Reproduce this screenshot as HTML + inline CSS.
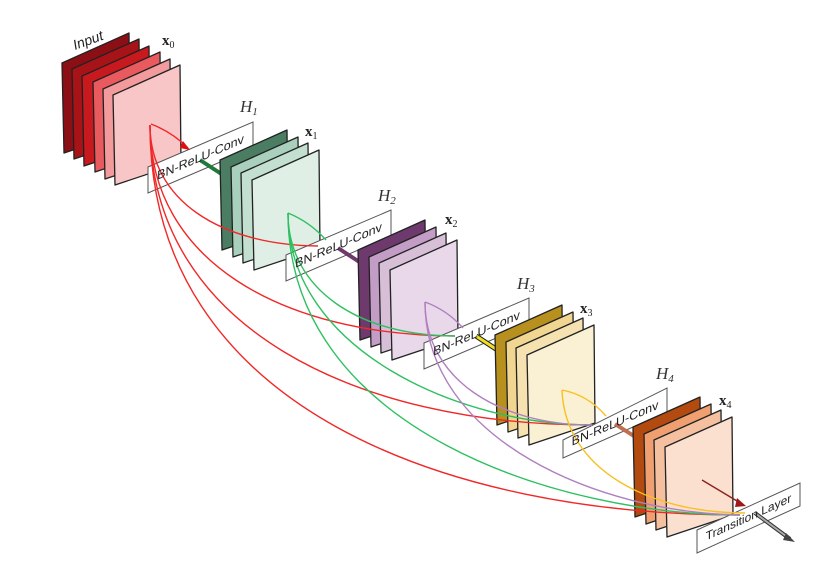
<!DOCTYPE html>
<html><head><meta charset="utf-8"><style>
html,body{margin:0;padding:0;background:#fff;}
svg{display:block;}
</style></head><body>
<svg width="823" height="574" viewBox="0 0 823 574" xmlns="http://www.w3.org/2000/svg" font-family="Liberation Sans, sans-serif">
<rect width="823" height="574" fill="#fff"/>
<g stroke="#222" stroke-width="1.3" stroke-linejoin="round">
<polygon points="62,63 129,33 130,131 64,153" fill="#8b0f14"/>
<polygon points="72,69 139,39 140,137 74,159" fill="#a81318"/>
<polygon points="82,76 149,46 150,144 84,166" fill="#c8191e"/>
<polygon points="93,82 160,52 161,150 95,172" fill="#e85a5e"/>
<polygon points="103,89 170,59 171,157 105,179" fill="#f29a9c"/>
<polygon points="113,95 180,65 181,163 115,185" fill="#f9c6c7"/>
</g>
<polygon points="148,167 253,122 253,148 148,193" fill="#fff" stroke="#555" stroke-width="1"/>
<line x1="200" y1="160" x2="223" y2="175" stroke="#1f7a3a" stroke-width="4"/>
<g stroke="#222" stroke-width="1.3" stroke-linejoin="round">
<polygon points="220,160 287,130 288,228 222,250" fill="#4a7d62"/>
<polygon points="231,167 298,137 299,235 233,257" fill="#a8d0bc"/>
<polygon points="241,173 308,143 309,241 243,263" fill="#c3dfd0"/>
<polygon points="252,180 319,150 320,248 254,270" fill="#e0efe6"/>
</g>
<polygon points="286,255 391,210 391,236 286,281" fill="#fff" stroke="#555" stroke-width="1"/>
<line x1="338" y1="248" x2="361" y2="263" stroke="#6e3a6e" stroke-width="4"/>
<g stroke="#222" stroke-width="1.3" stroke-linejoin="round">
<polygon points="358,250 425,220 426,318 360,340" fill="#6e3a6e"/>
<polygon points="369,257 436,227 437,325 371,347" fill="#c39dc6"/>
<polygon points="379,263 446,233 447,331 381,353" fill="#d8bfd8"/>
<polygon points="390,270 457,240 458,338 392,360" fill="#e8d8ea"/>
</g>
<polygon points="424,343 529,298 529,324 424,369" fill="#fff" stroke="#555" stroke-width="1"/>
<line x1="476" y1="336" x2="499" y2="351" stroke="#222" stroke-width="5"/>
<line x1="476" y1="336" x2="499" y2="351" stroke="#f0e020" stroke-width="3"/>
<g stroke="#222" stroke-width="1.3" stroke-linejoin="round">
<polygon points="495,335 562,305 563,403 497,425" fill="#b8901e"/>
<polygon points="506,342 573,312 574,410 508,432" fill="#f0d690"/>
<polygon points="516,348 583,318 584,416 518,438" fill="#f5e2b0"/>
<polygon points="527,355 594,325 595,423 529,445" fill="#faf0d4"/>
</g>
<polygon points="563,440 667,388 667,412 563,458" fill="#fff" stroke="#555" stroke-width="1"/>
<line x1="615" y1="424" x2="637" y2="438" stroke="#c07050" stroke-width="4"/>
<g stroke="#222" stroke-width="1.3" stroke-linejoin="round">
<polygon points="633,427 700,397 701,495 635,517" fill="#b34a10"/>
<polygon points="644,434 711,404 712,502 646,524" fill="#f0a070"/>
<polygon points="654,440 721,410 722,508 656,530" fill="#f5c0a0"/>
<polygon points="665,447 732,417 733,515 667,537" fill="#fbe0d0"/>
</g>
<polygon points="697,530 800,483 800,506 697,553" fill="#fff" stroke="#555" stroke-width="1"/>
<g fill="none" stroke-width="1.4">
<g stroke="#f02828">
<path d="M151,124 Q172,132 188,148"/>
<path d="M150,125 C150,200 220,245 318,246"/>
<path d="M150,125 C150,260 280,335 455,336"/>
<path d="M150,125 C150,330 360,425 592,425"/>
<path d="M150,125 C150,410 450,515 740,515"/>
</g>
<g stroke="#2ec060">
<path d="M288,213 Q310,222 326,240"/>
<path d="M288,213 C288,290 360,336 455,336"/>
<path d="M288,213 C288,350 460,425 592,425"/>
<path d="M288,213 C288,430 560,515 740,515"/>
</g>
<g stroke="#b080c0">
<path d="M425,302 Q447,310 463,328"/>
<path d="M425,302 C425,380 500,425 592,425"/>
<path d="M425,302 C425,440 600,513 740,515"/>
</g>
<g stroke="#f8c020">
<path d="M562,390 Q588,395 606,416"/>
<path d="M562,390 C565,470 650,513 745,513"/>
</g>
<path d="M702,480 L742,504" stroke="#8b2020"/>
</g>
<polygon points="183,141 190,150 180,148" fill="#e01010"/>
<polygon points="737,498 746,506 735,507" fill="#a01818"/>
<line x1="755" y1="513" x2="790" y2="539" stroke="#333" stroke-width="4"/>
<line x1="755" y1="513" x2="790" y2="539" stroke="#aaa" stroke-width="2"/>
<polygon points="786,533 795,542 783,540" fill="#444"/>
<g font-size="12.5" fill="#222">
<text transform="translate(200.5,158) skewY(-23.2)" text-anchor="middle" dominant-baseline="middle">BN-ReLU-Conv</text>
<text transform="translate(338.5,246) skewY(-23.2)" text-anchor="middle" dominant-baseline="middle">BN-ReLU-Conv</text>
<text transform="translate(476.5,334) skewY(-23.2)" text-anchor="middle" dominant-baseline="middle">BN-ReLU-Conv</text>
<text transform="translate(615,424) skewY(-23.2)" text-anchor="middle" dominant-baseline="middle">BN-ReLU-Conv</text>
<text transform="translate(748.5,518) skewY(-24.5)" text-anchor="middle" dominant-baseline="middle" font-size="12">Transition Layer</text>
<text transform="translate(75,50) rotate(-20)" font-style="italic" font-size="14">Input</text>
</g>
<g font-family="Liberation Serif, serif" fill="#222">
<text x="162" y="45" font-size="15" font-weight="bold">x<tspan font-size="10" font-weight="normal" dy="3">0</tspan></text>
<text x="305" y="136" font-size="15" font-weight="bold">x<tspan font-size="10" font-weight="normal" dy="3">1</tspan></text>
<text x="445" y="224" font-size="15" font-weight="bold">x<tspan font-size="10" font-weight="normal" dy="3">2</tspan></text>
<text x="580" y="313" font-size="15" font-weight="bold">x<tspan font-size="10" font-weight="normal" dy="3">3</tspan></text>
<text x="719" y="405" font-size="15" font-weight="bold">x<tspan font-size="10" font-weight="normal" dy="3">4</tspan></text>
<g font-style="italic" font-size="17" fill="#333">
<text x="240" y="112">H<tspan font-size="11" dy="3">1</tspan></text>
<text x="378" y="201">H<tspan font-size="11" dy="3">2</tspan></text>
<text x="517" y="289">H<tspan font-size="11" dy="3">3</tspan></text>
<text x="656" y="379">H<tspan font-size="11" dy="3">4</tspan></text>
</g>
</g>
</svg>
</body></html>
